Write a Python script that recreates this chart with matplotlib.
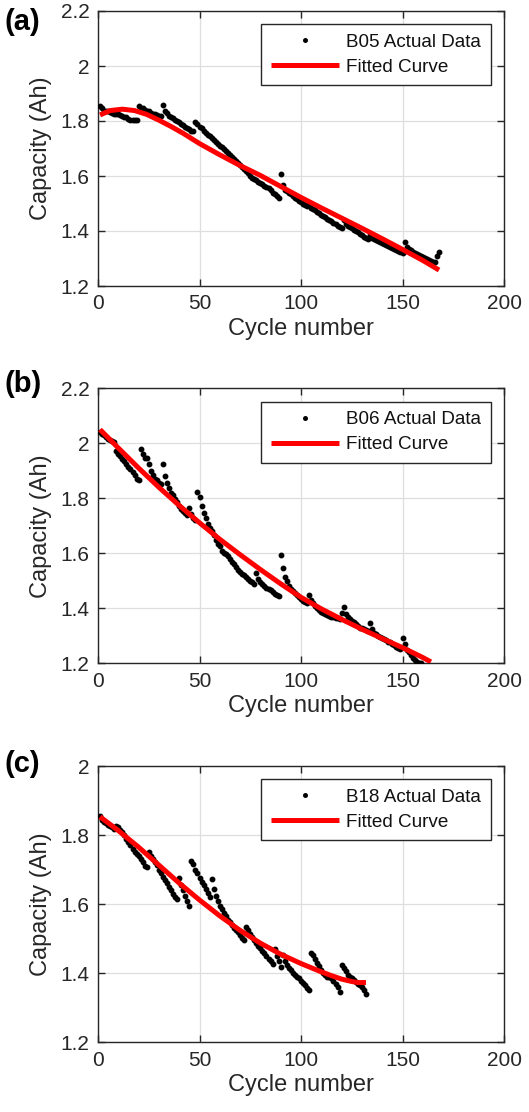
import matplotlib
matplotlib.use("Agg")
import matplotlib.pyplot as plt

plt.rcParams['font.family'] = ['Liberation Sans', 'DejaVu Sans']

# ---------------- data ----------------
b05_capacity = [
    1.856, 1.846, 1.835, 1.835, 1.835, 1.832, 1.828, 1.825, 1.825, 1.825,
    1.823, 1.820, 1.816, 1.815, 1.806, 1.805, 1.805, 1.805, 1.805, 1.853,
    1.846, 1.846, 1.840, 1.835, 1.835, 1.830, 1.826, 1.825, 1.821, 1.820,
    1.819, 1.857, 1.835, 1.830, 1.820, 1.815, 1.810, 1.805, 1.800, 1.795,
    1.790, 1.785, 1.780, 1.775, 1.770, 1.765, 1.762, 1.798, 1.790, 1.780,
    1.773, 1.765, 1.758, 1.750, 1.745, 1.738, 1.730, 1.724, 1.718, 1.710,
    1.705, 1.700, 1.690, 1.685, 1.678, 1.670, 1.662, 1.655, 1.648, 1.640,
    1.632, 1.625, 1.618, 1.610, 1.600, 1.593, 1.590, 1.585, 1.580, 1.575,
    1.570, 1.565, 1.560, 1.555, 1.548, 1.540, 1.535, 1.528, 1.520, 1.609,
    1.569, 1.550, 1.545, 1.540, 1.535, 1.528, 1.520, 1.515, 1.510, 1.505,
    1.500, 1.495, 1.490, 1.495, 1.485, 1.480, 1.475, 1.470, 1.465, 1.460,
    1.455, 1.450, 1.445, 1.440, 1.435, 1.430, 1.425, 1.420, 1.415, 1.410,
    1.440, 1.425, 1.420, 1.415, 1.410, 1.405, 1.400, 1.395, 1.390, 1.385,
    1.380, 1.375, 1.370, 1.386, 1.375, 1.372, 1.368, 1.365, 1.360, 1.356,
    1.352, 1.348, 1.345, 1.342, 1.338, 1.334, 1.330, 1.326, 1.322, 1.320,
    1.360, 1.342, 1.336, 1.330, 1.325, 1.320, 1.316, 1.312, 1.310, 1.306,
    1.302, 1.298, 1.295, 1.292, 1.288, 1.288, 1.310, 1.324,
]
b05_fit_cycles = [1, 6, 12, 18, 24, 30, 36, 42, 50, 60, 70, 80, 90, 100,
                  110, 120, 130, 140, 150, 160, 168]
b05_fit_values = [1.822, 1.838, 1.843, 1.838, 1.824, 1.803, 1.780, 1.755,
                  1.718, 1.677, 1.638, 1.602, 1.562, 1.522, 1.484, 1.447,
                  1.410, 1.372, 1.333, 1.293, 1.258]

b06_capacity = [
    2.040, 2.035, 2.030, 2.022, 2.015, 2.012, 2.010, 2.005, 1.972, 1.962,
    1.953, 1.944, 1.935, 1.925, 1.915, 1.905, 1.895, 1.885, 1.872, 1.866,
    1.979, 1.960, 1.945, 1.945, 1.924, 1.900, 1.885, 1.872, 1.866, 1.855,
    1.852, 1.924, 1.882, 1.855, 1.837, 1.818, 1.812, 1.796, 1.785, 1.772,
    1.760, 1.755, 1.748, 1.740, 1.764, 1.742, 1.730, 1.720, 1.824, 1.806,
    1.773, 1.747, 1.728, 1.707, 1.692, 1.680, 1.665, 1.650, 1.635, 1.625,
    1.610, 1.602, 1.598, 1.590, 1.580, 1.570, 1.560, 1.550, 1.540, 1.531,
    1.526, 1.520, 1.514, 1.508, 1.500, 1.495, 1.490, 1.530, 1.506, 1.495,
    1.488, 1.480, 1.475, 1.472, 1.468, 1.460, 1.452, 1.448, 1.443, 1.594,
    1.546, 1.515, 1.500, 1.482, 1.472, 1.464, 1.455, 1.447, 1.440, 1.434,
    1.428, 1.422, 1.420, 1.450, 1.432, 1.420, 1.410, 1.400, 1.395, 1.388,
    1.382, 1.378, 1.374, 1.372, 1.370, 1.368, 1.366, 1.364, 1.362, 1.384,
    1.405, 1.380, 1.370, 1.362, 1.355, 1.350, 1.342, 1.336, 1.330, 1.327,
    1.323, 1.320, 1.318, 1.348, 1.325, 1.312, 1.306, 1.300, 1.296, 1.293,
    1.289, 1.284, 1.279, 1.276, 1.270, 1.265, 1.260, 1.256, 1.252, 1.291,
    1.270, 1.250, 1.240, 1.229, 1.220, 1.211, 1.205, 1.201, 1.200,
]
b06_fit_cycles = [1, 10, 20, 30, 40, 50, 60, 70, 80, 90, 100, 110, 120,
                  130, 140, 150, 160, 164]
b06_fit_values = [2.050, 1.983, 1.910, 1.840, 1.774, 1.711, 1.651, 1.595,
                  1.541, 1.489, 1.440, 1.398, 1.360, 1.324, 1.290, 1.257,
                  1.221, 1.205]

b18_capacity = [
    1.855, 1.843, 1.838, 1.834, 1.830, 1.826, 1.822, 1.818, 1.825, 1.823,
    1.815, 1.808, 1.800, 1.790, 1.780, 1.770, 1.760, 1.752, 1.745, 1.738,
    1.730, 1.722, 1.710, 1.708, 1.750, 1.740, 1.730, 1.722, 1.712, 1.700,
    1.690, 1.680, 1.670, 1.660, 1.650, 1.640, 1.630, 1.622, 1.615, 1.675,
    1.655, 1.640, 1.625, 1.610, 1.595, 1.725, 1.715, 1.700, 1.690, 1.675,
    1.665, 1.655, 1.645, 1.632, 1.620, 1.672, 1.645, 1.625, 1.610, 1.595,
    1.585, 1.575, 1.565, 1.555, 1.548, 1.540, 1.532, 1.525, 1.518, 1.510,
    1.503, 1.497, 1.535, 1.525, 1.515, 1.505, 1.495, 1.488, 1.480, 1.472,
    1.465, 1.458, 1.450, 1.442, 1.435, 1.428, 1.469, 1.450, 1.435, 1.418,
    1.452, 1.435, 1.425, 1.415, 1.408, 1.400, 1.395, 1.390, 1.385, 1.378,
    1.372, 1.365, 1.358, 1.352, 1.460, 1.452, 1.440, 1.430, 1.420, 1.410,
    1.400, 1.395, 1.390, 1.388, 1.385, 1.378, 1.368, 1.360, 1.345, 1.425,
    1.415, 1.405, 1.395, 1.390, 1.385, 1.380, 1.375, 1.370, 1.365, 1.360,
    1.350, 1.340,
]
b18_fit_cycles = [1, 10, 20, 30, 40, 50, 60, 70, 80, 90, 100, 110, 115,
                  120, 125, 128, 132]
b18_fit_values = [1.853, 1.813, 1.765, 1.713, 1.661, 1.612, 1.566, 1.524,
                  1.487, 1.455, 1.428, 1.404, 1.393, 1.383, 1.376, 1.373,
                  1.373]

panel_tags = ['(a)', '(b)', '(c)']
data_labels = ['B05 Actual Data', 'B06 Actual Data', 'B18 Actual Data']
fit_label = 'Fitted Curve'
x_label = 'Cycle number'
y_label = 'Capacity (Ah)'
x_ticks = [0, 50, 100, 150, 200]
y_ticks_ab = [1.2, 1.4, 1.6, 1.8, 2.0, 2.2]
y_ticks_c = [1.2, 1.4, 1.6, 1.8, 2.0]

panels = [
    (b05_capacity, b05_fit_cycles, b05_fit_values, (1.2, 2.2), y_ticks_ab),
    (b06_capacity, b06_fit_cycles, b06_fit_values, (1.2, 2.2), y_ticks_ab),
    (b18_capacity, b18_fit_cycles, b18_fit_values, (1.2, 2.0), y_ticks_c),
]

# ---------------- figure ----------------
W, H = 529, 1112
fig = plt.figure(figsize=(W / 100, H / 100), dpi=100)

axes_px = [(11, 286), (388.3, 663.3), (766, 1042.3)]
tag_y_px = [22, 384, 764]
left_px, right_px = 98, 504
dark = '#262626'

for i, (cap, fc, fv, ylim, yt) in enumerate(panels):
    top, bot = axes_px[i]
    ax = fig.add_axes([left_px / W, 1 - bot / H, (right_px - left_px) / W,
                       (bot - top) / H])
    cycles = list(range(1, len(cap) + 1))
    ax.plot(cycles, cap, linestyle='none', marker='o', markersize=3.2,
            color='black', label=data_labels[i], zorder=3, clip_on=True)
    ax.plot(fc, fv, color='#ff0000', linewidth=3.6, label=fit_label,
            zorder=4, solid_capstyle='butt')
    ax.set_xlim(0, 200)
    ax.set_ylim(*ylim)
    ax.set_xticks(x_ticks)
    ax.set_yticks(yt)
    ax.set_xticklabels([str(t) for t in x_ticks])
    ax.set_yticklabels([('%g' % t) for t in yt])
    ax.grid(True, color='#dedede', linewidth=0.9)
    ax.set_axisbelow(True)
    for s in ax.spines.values():
        s.set_color(dark)
        s.set_linewidth(1.0)
    ax.tick_params(direction='in', length=5, width=1.0, colors=dark,
                   labelsize=15, top=True, right=True, pad=6)
    ax.set_xlabel(x_label, fontsize=17, color=dark, labelpad=3)
    ax.set_ylabel(y_label, fontsize=17, color=dark, labelpad=6)

    leg = ax.legend(loc='upper right', fontsize=13.6, frameon=True,
                    fancybox=False, edgecolor=dark, framealpha=1,
                    handlelength=3.6, handletextpad=0.4, borderpad=0.5,
                    labelspacing=0.42, borderaxespad=0.7, markerscale=0.8)
    leg.get_frame().set_linewidth(1.0)
    for t in leg.get_texts():
        t.set_color('#111111')

    fig.text(4 / W, 1 - tag_y_px[i] / H, panel_tags[i], fontsize=21,
             fontweight='bold', ha='left', va='center', color='black')

fig.savefig('out.png', dpi=100)
